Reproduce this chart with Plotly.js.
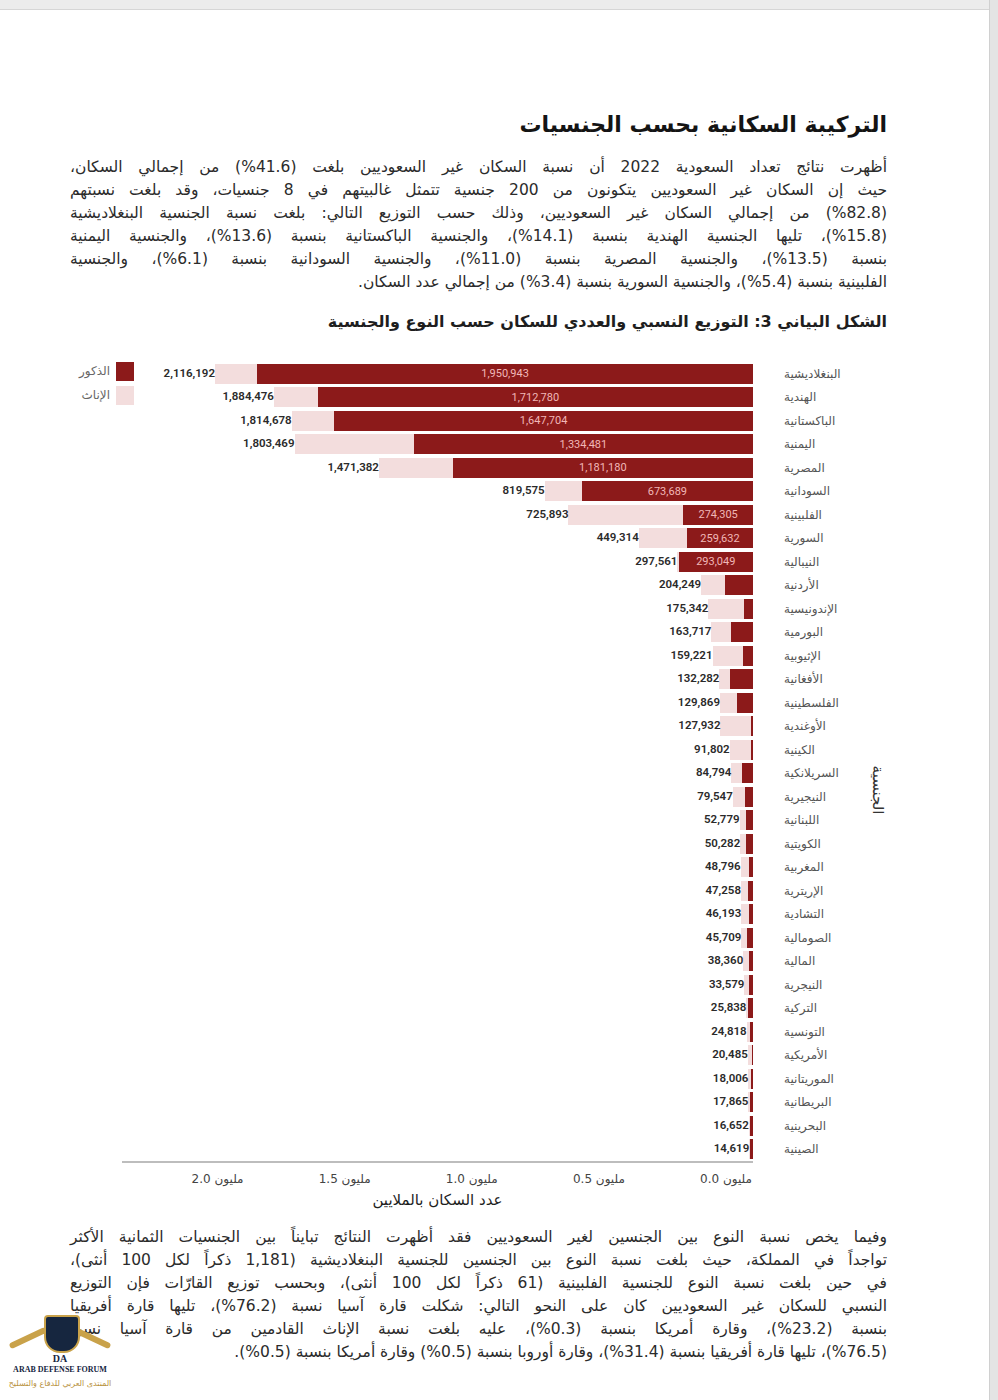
<!DOCTYPE html>
<html lang="ar">
<head>
<meta charset="utf-8">
<script src="https://cdn.plot.ly/plotly-3.0.1.min.js"></script>
<style>
  html, body { margin:0; padding:0; }
  body { width:998px; height:1400px; background:#ffffff; position:relative; overflow:hidden;
         font-family:"DejaVu Sans", "Noto Sans", sans-serif; }
  .topband { position:absolute; left:0; top:0; width:998px; height:9px; background:#ececec; border-bottom:1px solid #d6d6d6; }
  .rightband { position:absolute; left:989px; top:0; width:9px; height:1400px; background:#e4e4e4; border-left:1px solid #d0d0d0; }
  .title { position:absolute; left:70px; width:817px; top:109px; direction:rtl; text-align:right;
           font-size:22px; font-weight:bold; color:#141414; line-height:32px; }
  .para { position:absolute; left:70px; width:817px; direction:rtl; color:#2b2b2b; font-size:15.5px; line-height:23px; }
  .para div { text-align:justify; text-align-last:justify; white-space:nowrap; }
  .para div.last { text-align:right; text-align-last:right; }
  .para span.p { direction:ltr; unicode-bidi:isolate; }
  .ctitle { position:absolute; left:70px; width:817px; top:309px; direction:rtl; text-align:right;
            font-size:16px; font-weight:bold; color:#1e1e1e; line-height:26px; }
  #chart { position:absolute; left:0; top:340px; width:998px; height:880px; }
  .lg { position:absolute; width:18px; height:19px; }
  .lgt { position:absolute; direction:rtl; text-align:right; font-size:12px; color:#666; width:60px; line-height:19px; }
  .logo { position:absolute; left:0; top:1305px; width:120px; height:95px; }
</style>
</head>
<body>
<div class="topband"></div>
<div class="rightband"></div>

<div class="title">التركيبة السكانية بحسب الجنسيات</div>

<div class="para" style="top:156px;">
  <div>أظهرت نتائج تعداد السعودية 2022 أن نسبة السكان غير السعوديين بلغت (<span class="p">%41.6</span>) من إجمالي السكان،</div>
  <div>حيث إن السكان غير السعوديين يتكونون من 200 جنسية تتمثل غالبيتهم في 8 جنسيات، وقد بلغت نسبتهم</div>
  <div>(<span class="p">%82.8</span>) من إجمالي السكان غير السعوديين، وذلك حسب التوزيع التالي: بلغت نسبة الجنسية البنغلاديشية</div>
  <div>(<span class="p">%15.8</span>)، تليها الجنسية الهندية بنسبة (<span class="p">%14.1</span>)، والجنسية الباكستانية بنسبة (<span class="p">%13.6</span>)، والجنسية اليمنية</div>
  <div>بنسبة (<span class="p">%13.5</span>)، والجنسية المصرية بنسبة (<span class="p">%11.0</span>)، والجنسية السودانية بنسبة (<span class="p">%6.1</span>)، والجنسية</div>
  <div class="last">الفلبينية بنسبة (<span class="p">%5.4</span>)، والجنسية السورية بنسبة (<span class="p">%3.4</span>) من إجمالي عدد السكان.</div>
</div>

<div class="ctitle">الشكل البياني 3: التوزيع النسبي والعددي للسكان حسب النوع والجنسية</div>

<div id="chart"></div>

<div class="lg" style="left:116px; top:362px; background:#8c1a1a;"></div>
<div class="lg" style="left:116px; top:386px; background:#f3dddd;"></div>
<div class="lgt" style="left:50px; top:362px;">الذكور</div>
<div class="lgt" style="left:50px; top:386px;">الإناث</div>

<div class="para" style="top:1226px;">
  <div>وفيما يخص نسبة النوع بين الجنسين لغير السعوديين فقد أظهرت النتائج تبايناً بين الجنسيات الثمانية الأكثر</div>
  <div>تواجداً في المملكة، حيث بلغت نسبة النوع بين الجنسين للجنسية البنغلاديشية (1,181 ذكراً لكل 100 أنثى)،</div>
  <div>في حين بلغت نسبة النوع للجنسية الفلبينية (61 ذكراً لكل 100 أنثى)، وبحسب توزيع القارّات فإن التوزيع</div>
  <div>النسبي للسكان غير السعوديين كان على النحو التالي: شكلت قارة آسيا نسبة (<span class="p">%76.2</span>)، تليها قارة أفريقيا</div>
  <div>بنسبة (<span class="p">%23.2</span>)، وقارة أمريكا بنسبة (<span class="p">%0.3</span>)، عليه بلغت نسبة الإناث القادمين من قارة آسيا نسبة</div>
  <div class="last">(<span class="p">%76.5</span>)، تليها قارة أفريقيا بنسبة (<span class="p">%31.4</span>)، وقارة أوروبا بنسبة (<span class="p">%0.5</span>) وقارة أمريكا بنسبة (<span class="p">%0.5</span>).</div>
</div>

<div class="logo">
  <div style="position:absolute; left:8px; top:30px; width:40px; height:6px; background:#c9a24a; transform:rotate(-25deg); border-radius:3px;"></div>
  <div style="position:absolute; left:72px; top:30px; width:40px; height:6px; background:#c9a24a; transform:rotate(25deg); border-radius:3px;"></div>
  <div style="position:absolute; left:44px; top:10px; width:32px; height:34px; background:#16263f; border-radius:4px 4px 16px 16px; border:2px solid #c9a24a;"></div>
  <div style="position:absolute; left:0; top:48px; width:120px; text-align:center; font-family:'Liberation Serif',serif; font-weight:bold; font-size:10px; color:#16263f;">DA</div>
  <div style="position:absolute; left:0; top:60px; width:120px; text-align:center; font-family:'Liberation Serif',serif; font-weight:bold; font-size:8px; color:#16263f;">ARAB DEFENSE FORUM</div>
  <div style="position:absolute; left:0; top:74px; width:120px; text-align:center; direction:rtl; font-size:8px; color:#b8913c;">المنتدى العربي للدفاع والتسليح</div>
</div>

<script>
// ---- Data ----
const nationalities = [
  "البنغلاديشية","الهندية","الباكستانية","اليمنية","المصرية","السودانية","الفلبينية","السورية",
  "النيبالية","الأردنية","الإندونيسية","البورمية","الإثيوبية","الأفغانية","الفلسطينية","الأوغندية",
  "الكينية","السريلانكية","النيجيرية","اللبنانية","الكويتية","المغربية","الإريترية","التشادية",
  "الصومالية","المالية","النيجرية","التركية","التونسية","الأمريكية","الموريتانية","البريطانية",
  "البحرينية","الصينية"
];
const totalPop = [
  2116192,1884476,1814678,1803469,1471382,819575,725893,449314,
  297561,204249,175342,163717,159221,132282,129869,127932,
  91802,84794,79547,52779,50282,48796,47258,46193,
  45709,38360,33579,25838,24818,20485,18006,17865,
  16652,14619
];
// males: first nine are labelled in the chart, the rest are estimated from bar lengths
const malePop = [
  1950943,1712780,1647704,1334481,1181180,673689,274305,259632,
  293049,110000,36000,87000,39000,90000,63000,8000,
  8000,45000,32000,28000,26000,15000,18000,17000,
  25000,14000,16000,20000,13000,5000,9000,12000,
  10000,12000
];
const labelledMales = 9;
const tickValues = [0, 500000, 1000000, 1500000, 2000000];
const tickLabels = ["0.0 مليون","0.5 مليون","1.0 مليون","1.5 مليون","2.0 مليون"];

const femalePop = totalPop.map((t, i) => t - malePop[i]);
const fmt = v => v.toLocaleString("en-US");
const maleText = malePop.map((v, i) => i < labelledMales ? fmt(v) : "");

const DARK = "#8c1a1a", LIGHT = "#f3dddd";

const traces = [
  {
    type: "bar", orientation: "h", name: "الذكور",
    y: nationalities, x: malePop,
    marker: { color: DARK },
    text: maleText, textposition: "inside", insidetextanchor: "middle",
    textfont: { family: "Roboto, 'Noto Sans', sans-serif", size: 11, color: "#f1b7b7" },
    hoverinfo: "x+y"
  },
  {
    type: "bar", orientation: "h", name: "الإناث",
    y: nationalities, x: femalePop,
    marker: { color: LIGHT },
    hoverinfo: "x+y"
  },
  {
    type: "scatter", mode: "text",
    y: nationalities, x: totalPop,
    text: totalPop.map(fmt), textposition: "middle left",
    textfont: { family: "Roboto, 'Noto Sans', sans-serif", size: 11.5, color: "#2a2a2a", weight: 600 },
    hoverinfo: "skip", cliponaxis: false, showlegend: false
  }
];

const layout = {
  width: 998, height: 880,
  margin: { l: 122, r: 245, t: 22, b: 59 },
  paper_bgcolor: "rgba(0,0,0,0)", plot_bgcolor: "rgba(0,0,0,0)",
  barmode: "stack", bargap: 0.13,
  showlegend: false,
  font: { family: "'DejaVu Sans', 'Noto Sans', sans-serif", color: "#333" },
  xaxis: {
    range: [2482000, 0],
    tickvals: tickValues, ticktext: tickLabels,
    ticklabelposition: "outside left",
    tickfont: { size: 12, color: "#444" },
    showgrid: false, zeroline: false,
    showline: true, linecolor: "#bdbdbd", linewidth: 2,
    ticks: "", ticklabelstandoff: 6,
    title: { text: "عدد السكان بالملايين", font: { size: 15, color: "#1e1e1e" }, standoff: 8 }
  },
  yaxis: {
    type: "category", categoryorder: "array", categoryarray: nationalities,
    range: [nationalities.length - 0.5, -0.5], side: "right",
    showgrid: false, zeroline: false, showline: false, ticks: "",
    ticklabelstandoff: 30,
    tickfont: { size: 12, color: "#555" }
  },
  annotations: [
    { xref: "paper", yref: "paper", x: 1.215, y: 0.464, text: "الجنسية", showarrow: false,
      textangle: 90, font: { size: 15, color: "#333" } }
  ]
};

Plotly.newPlot("chart", traces, layout, { displayModeBar: false, staticPlot: true });
</script>
</body>
</html>
